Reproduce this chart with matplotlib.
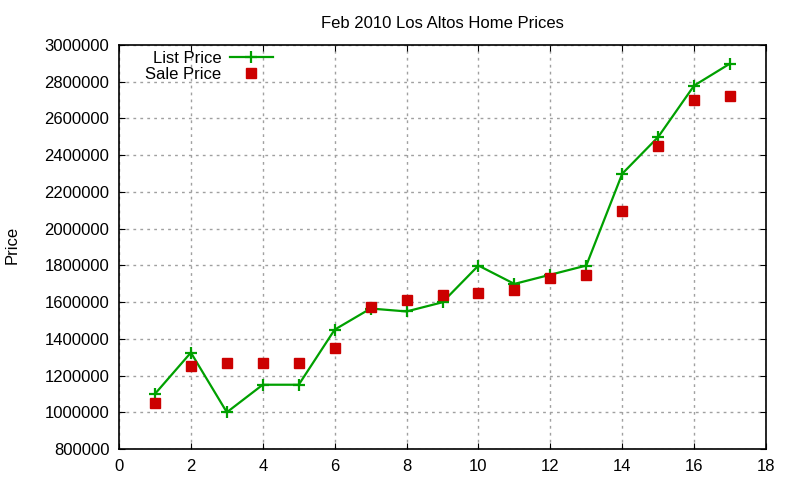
import matplotlib
matplotlib.use('Agg')
import matplotlib.pyplot as plt

plt.rcParams['font.family'] = ['Liberation Sans', 'DejaVu Sans']

month = list(range(1, 18))
list_price = [1100000, 1325000, 1000000, 1150000, 1150000, 1450000, 1565000, 1549000,
              1599000, 1799000, 1699000, 1749000, 1799000, 2299000, 2499000, 2779000, 2899000]
sale_price = [1050000, 1252000, 1270000, 1270000, 1270000, 1350000, 1575000, 1610000,
              1640000, 1650000, 1665000, 1732000, 1748000, 2098000, 2450000, 2702000, 2722000]

fig = plt.figure(figsize=(8, 4.8), dpi=100)
ax = fig.add_axes([119/800, 1-449/480, (766-119)/800, (449-45)/480])

ax.plot(month, list_price, color='#00a000', lw=1.6, marker='+', ms=9, mew=1.6,
        label='List Price')
ax.plot(month, sale_price, ls='none', color='#cc0000', marker='s', ms=6.5,
        label='Sale Price')

ax.set_xlim(0, 18)
ax.set_ylim(800000, 3000000)
ax.set_xticks(range(0, 19, 2))
ax.set_yticks(range(800000, 3000001, 200000))
ax.set_yticklabels([str(v) for v in range(800000, 3000001, 200000)])
ax.grid(True, color='#a0a0a0', ls=(0, (2, 3)), lw=1)
ax.tick_params(direction='in', top=True, right=True, labelsize=12, length=4, pad=7)
for s in ax.spines.values():
    s.set_linewidth(1.2)

ax.set_title('Feb 2010 Los Altos Home Prices', fontsize=12, pad=12)
fig.text(12/800, 1-245/480, 'Price', rotation=90, fontsize=12, va='center', ha='center')

leg = ax.legend(loc='upper left', markerfirst=False, frameon=False, fontsize=12,
                bbox_to_anchor=(0.025, 1.01), handlelength=2.6, handletextpad=0.5,
                borderaxespad=0.2, labelspacing=0.05)

plt.savefig('out.png')
plt.close()
